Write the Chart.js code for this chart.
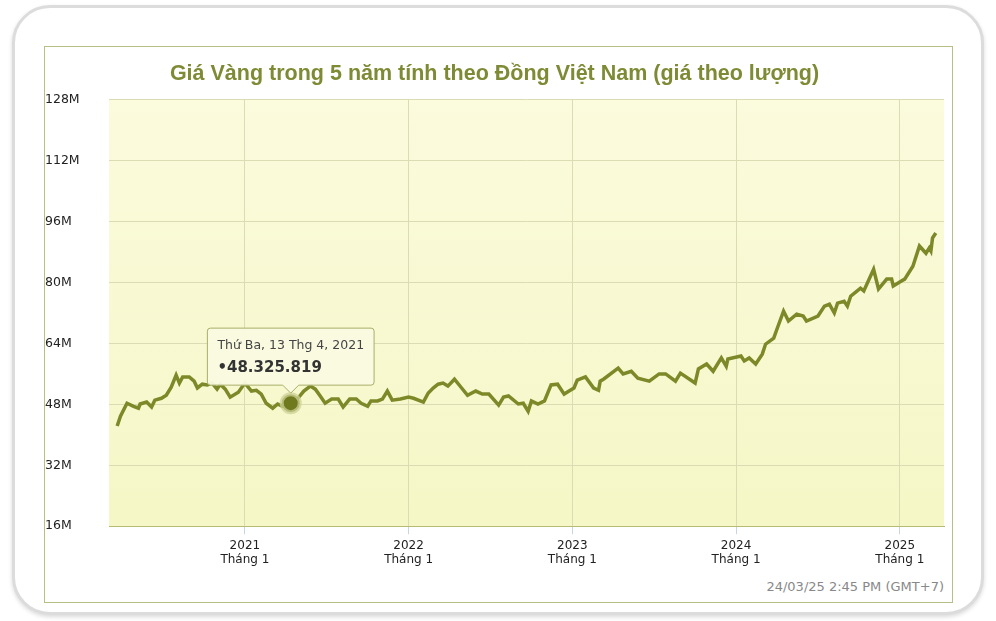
<!DOCTYPE html>
<html>
<head>
<meta charset="utf-8">
<script src="https://cdn.jsdelivr.net/npm/chart.js@4"></script>
<style>
  html, body { margin: 0; padding: 0; background: #fff; width: 996px; height: 621px; overflow: hidden; }
  .card { position: absolute; left: 12px; top: 5px; width: 966px; height: 604px; border: 3px solid #dcdcdc;
          border-radius: 38px; box-shadow: 0 2px 4px rgba(0,0,0,0.15); background: #fff; }
  .box { position: absolute; left: 44px; top: 46px; width: 907px; height: 555px; border: 1px solid #b9be86; background: #fff; }
  #wrap { position: absolute; left: 0; top: 0; width: 907px; height: 524px; }
  .stamp { position: absolute; right: 8px; bottom: 8px; font: 13px "DejaVu Sans", sans-serif; color: #888; }
</style>
</head>
<body>
<div class="card"></div>
<div class="box">
  <div id="wrap"><canvas id="c"></canvas></div>
  <div class="stamp">24/03/25 2:45 PM (GMT+7)</div>
</div>
<script>
// Decimal years and gold price (million VND per lượng)
const years = [
  2020.22, 2020.24, 2020.28, 2020.32, 2020.35, 2020.36, 2020.40, 2020.43, 2020.45, 2020.49,
  2020.52, 2020.55, 2020.58, 2020.60, 2020.62, 2020.66, 2020.69, 2020.71, 2020.74, 2020.77,
  2020.80, 2020.83, 2020.85, 2020.88, 2020.91, 2020.96, 2021.00, 2021.04, 2021.07, 2021.10,
  2021.13, 2021.17, 2021.20, 2021.23, 2021.28, 2021.32, 2021.36, 2021.40, 2021.43, 2021.46,
  2021.49, 2021.53, 2021.57, 2021.60, 2021.64, 2021.68, 2021.71, 2021.75, 2021.77, 2021.81,
  2021.84, 2021.87, 2021.90, 2021.95, 2022.00, 2022.03, 2022.09, 2022.12, 2022.15, 2022.18,
  2022.21, 2022.24, 2022.28, 2022.32, 2022.36, 2022.41, 2022.45, 2022.49, 2022.55, 2022.58,
  2022.61, 2022.67, 2022.70, 2022.73, 2022.75, 2022.79, 2022.83, 2022.87, 2022.91, 2022.95,
  2022.98, 2023.01, 2023.03, 2023.08, 2023.13, 2023.16, 2023.17, 2023.19, 2023.28, 2023.31,
  2023.36, 2023.40, 2023.47, 2023.53, 2023.57, 2023.63, 2023.66, 2023.75, 2023.77, 2023.82,
  2023.86, 2023.91, 2023.94, 2023.95, 2024.03, 2024.05, 2024.08, 2024.12, 2024.16, 2024.18,
  2024.23, 2024.25, 2024.29, 2024.32, 2024.37, 2024.41, 2024.43, 2024.50, 2024.54, 2024.57,
  2024.60, 2024.62, 2024.66, 2024.68, 2024.70, 2024.74, 2024.76, 2024.78, 2024.84, 2024.87,
  2024.92, 2024.95, 2024.96, 2025.01, 2025.03, 2025.08, 2025.12, 2025.16, 2025.18, 2025.19,
  2025.20, 2025.22
];
const prices = [
  42.3, 44.9, 48.3, 47.5, 47.0, 48.1, 48.6, 47.3, 49.1, 49.6,
  50.4, 52.5, 55.7, 53.6, 55.2, 55.2, 54.1, 52.3, 53.3, 53.1,
  53.6, 52.0, 53.3, 52.0, 49.9, 51.2, 53.6, 51.5, 51.7, 50.7,
  48.3, 47.0, 48.1, 47.5, 48.325819, 49.4, 51.5, 52.8, 52.0, 50.2,
  48.3, 49.4, 49.4, 47.3, 49.4, 49.4, 48.3, 47.5, 48.9, 48.9,
  49.4, 51.5, 49.1, 49.4, 49.9, 49.6, 48.6, 51.0, 52.3, 53.3,
  53.6, 52.8, 54.6, 52.5, 50.4, 51.5, 50.7, 50.7, 47.8, 49.9,
  50.2, 48.1, 48.3, 46.2, 48.9, 48.1, 48.9, 53.1, 53.3, 50.7,
  51.5, 52.3, 54.4, 55.2, 52.3, 51.7, 54.1, 54.6, 57.5, 56.0,
  56.7, 54.9, 54.1, 56.0, 56.0, 54.1, 56.2, 53.6, 57.3, 58.6,
  56.7, 60.2, 58.0, 59.9, 60.7, 59.4, 60.2, 58.6, 61.2, 63.8,
  65.4, 67.8, 72.5, 69.9, 71.7, 71.2, 69.9, 71.2, 73.8, 74.3,
  72.0, 74.6, 75.1, 73.8, 76.4, 77.8, 78.5, 77.8, 83.5, 78.3,
  80.9, 80.9, 79.1, 80.4, 80.9, 84.3, 89.6, 87.7, 89.1, 88.3,
  91.7, 93.0
];
const yearTicks = [2021, 2022, 2023, 2024, 2025];
const yTicks = [16, 32, 48, 64, 80, 96, 112, 128];
const tooltipIndex = 34;
const tooltipTitle = 'Thứ Ba, 13 Thg 4, 2021';

const OLIVE = '#7d8829';
const GRID = '#dcdcb4';

const plotBg = {
  id: 'plotBg',
  beforeDraw(chart) {
    const { ctx, chartArea: a } = chart;
    const g = ctx.createLinearGradient(0, a.top, 0, a.bottom);
    g.addColorStop(0, '#fbfbdd');
    g.addColorStop(1, '#f5f7c6');
    ctx.save();
    ctx.fillStyle = g;
    ctx.fillRect(a.left, a.top, a.right - a.left, a.bottom - a.top);
    ctx.restore();
  }
};

const chart = new Chart(document.getElementById('c'), {
  type: 'line',
  data: {
    datasets: [{
      data: years.map((x, i) => ({ x, y: prices[i] })),
      borderColor: OLIVE,
      borderWidth: 3.5,
      pointRadius: 0,
      pointHoverRadius: 9,
      pointHoverBackgroundColor: '#6f7a1f',
      pointHoverBorderColor: 'rgba(205,210,150,0.75)',
      pointHoverBorderWidth: 4,
      tension: 0,
      fill: false
    }]
  },
  options: {
    responsive: true,
    maintainAspectRatio: false,
    animation: false,
    events: [],
    layout: { padding: { left: 0, right: 8, top: 0, bottom: 0 } },
    scales: {
      x: {
        type: 'linear',
        min: 2020.17,
        max: 2025.27,
        afterBuildTicks: s => { s.ticks = yearTicks.map(v => ({ value: v })); },
        grid: { color: GRID, lineWidth: 1, drawTicks: true, tickLength: 8, tickColor: '#c8d4e0' },
        border: { color: '#b5bb70', width: 1 },
        ticks: {
          color: '#222',
          font: { family: 'DejaVu Sans', size: 12 },
          padding: 4,
          callback: v => [String(v), 'Tháng 1']
        }
      },
      y: {
        min: 16,
        max: 128,
        afterBuildTicks: s => { s.ticks = yTicks.map(v => ({ value: v })); },
        afterFit: s => { s.width = 64; },
        grid: { color: GRID, drawTicks: false },
        border: { display: false },
        ticks: {
          color: '#222',
          font: { family: 'DejaVu Sans', size: 12.5 },
          crossAlign: 'far',
          padding: 10,
          callback: v => v + 'M'
        }
      }
    },
    plugins: {
      legend: { display: false },
      title: {
        display: true,
        text: 'Giá Vàng trong 5 năm tính theo Đồng Việt Nam (giá theo lượng)',
        color: '#7f8a35',
        font: { family: 'Liberation Sans', size: 21.5, weight: 'bold' },
        padding: { top: 14, bottom: 13 }
      },
      tooltip: {
        enabled: true,
        yAlign: 'bottom',
        xAlign: 'center',
        caretSize: 8,
        caretPadding: 10,
        backgroundColor: 'rgba(250,250,225,0.95)',
        borderColor: '#a8ae6a',
        borderWidth: 1,
        cornerRadius: 3,
        padding: { left: 10, right: 10, top: 10, bottom: 8 },
        titleColor: '#444',
        titleFont: { family: 'DejaVu Sans', size: 12.5, weight: 'normal' },
        titleMarginBottom: 6,
        bodyColor: '#333',
        bodyFont: { family: 'DejaVu Sans', size: 15, weight: 'bold' },
        displayColors: false,
        callbacks: {
          title: () => tooltipTitle,
          label: item => '•' + Math.round(item.parsed.y * 1e6).toLocaleString('de-DE')
        }
      }
    }
  },
  plugins: [plotBg]
});

const meta = chart.getDatasetMeta(0).data[tooltipIndex];
chart.setActiveElements([{ datasetIndex: 0, index: tooltipIndex }]);
chart.tooltip.setActiveElements([{ datasetIndex: 0, index: tooltipIndex }], { x: meta.x, y: meta.y });
chart.update();
</script>
</body>
</html>
